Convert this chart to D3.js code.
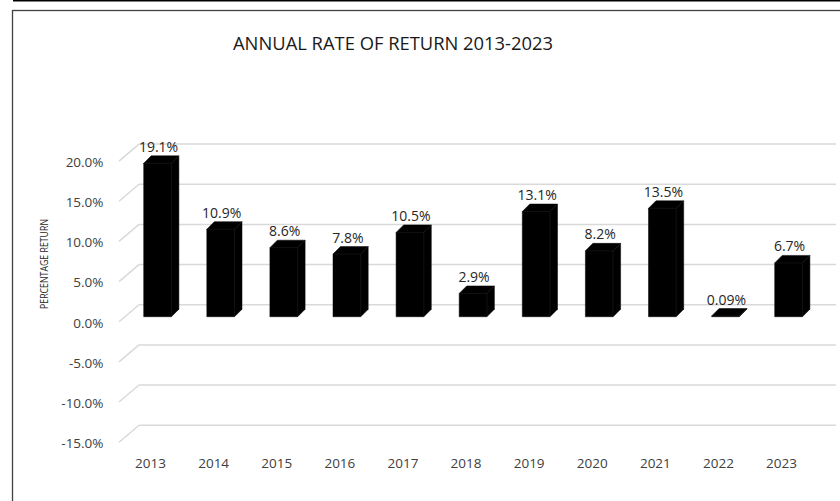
<!DOCTYPE html>
<html>
<head>
<meta charset="utf-8">
<script src="https://cdn.jsdelivr.net/npm/d3@7"></script>
<style>
  body { margin: 0; background: #fff; }
  svg { display: block; font-family: "Open Sans", sans-serif; }
</style>
</head>
<body>
<div id="chart"></div>
<script>
var years = ["2013", "2014", "2015", "2016", "2017", "2018", "2019", "2020", "2021", "2022", "2023"];
var returns = [19.1, 10.9, 8.6, 7.8, 10.5, 2.9, 13.1, 8.2, 13.5, 0.09, 6.7];
var yTicks = [-15, -10, -5, 0, 5, 10, 15, 20];

var width = 840, height = 501;
var depth = {dx: 20, dy: -17};      // floor depth (front edge -> back wall)
var barOff = {dx: 7, dy: -5};       // bar front face sits a bit behind the front edge
var barDepth = {dx: 7.5, dy: -7.5};
var barW = 27.7;

var data = years.map(function(d, i){ return {year: d, value: returns[i]}; });

var svg = d3.select("#chart").append("svg")
    .attr("width", width)
    .attr("height", height);

// frame
svg.append("line")
    .attr("x1", 13).attr("x2", width).attr("y1", 0.75).attr("y2", 0.75)
    .attr("stroke", "#000").attr("stroke-width", 1.5);
svg.append("rect")
    .attr("x", 12.5).attr("y", 10.5)
    .attr("width", width).attr("height", height)
    .attr("fill", "none").attr("stroke", "#404040").attr("stroke-width", 1.3);

var x = d3.scaleBand()
    .domain(years)
    .range([119, 119 + 11 * 63.1])
    .padding(0);

var y = d3.scaleLinear()
    .domain([-15, 20])
    .range([442.2, 161.1]);

// gridlines on the back wall plus the diagonal on the side wall
var grid = svg.append("g").attr("class", "grid");
grid.selectAll("line.h").data(yTicks).enter().append("line")
    .attr("class", "h")
    .attr("x1", 119 + depth.dx)
    .attr("x2", 836)
    .attr("y1", function(d){ return y(d) + depth.dy; })
    .attr("y2", function(d){ return y(d) + depth.dy; })
    .attr("stroke", "#d9d9d9").attr("stroke-width", 1.5);
grid.selectAll("line.d").data(yTicks).enter().append("line")
    .attr("class", "d")
    .attr("x1", 119)
    .attr("x2", 119 + depth.dx)
    .attr("y1", function(d){ return y(d); })
    .attr("y2", function(d){ return y(d) + depth.dy; })
    .attr("stroke", "#d9d9d9").attr("stroke-width", 1.5);

// title
svg.append("text")
    .attr("x", 393)
    .attr("y", 50)
    .attr("text-anchor", "middle")
    .attr("font-size", 19)
    .attr("textLength", 320)
    .attr("lengthAdjust", "spacingAndGlyphs")
    .attr("fill", "#1a1a1a")
    .text("ANNUAL RATE OF RETURN 2013-2023");

// axis title
svg.append("text")
    .attr("transform", "translate(48,264) rotate(-90)")
    .attr("text-anchor", "middle")
    .attr("font-size", 11)
    .attr("textLength", 90)
    .attr("lengthAdjust", "spacingAndGlyphs")
    .attr("fill", "#262626")
    .text("PERCENTAGE RETURN");

// y axis labels
var yAxis = svg.append("g")
    .attr("transform", "translate(119,1)")
    .call(d3.axisLeft(y).tickValues(yTicks).tickSize(0).tickPadding(15.5)
        .tickFormat(function(d){ return d.toFixed(1) + "%"; }));
yAxis.select(".domain").remove();
yAxis.selectAll("text").attr("font-size", 13.5).attr("fill", "#404040")
    .attr("font-family", "Open Sans, sans-serif");

// x axis labels
var xAxis = svg.append("g")
    .attr("transform", "translate(0,463)")
    .call(d3.axisBottom(x).tickSize(0).tickPadding(0));
xAxis.select(".domain").remove();
xAxis.selectAll("text").attr("dy", "0.35em").attr("font-size", 13.5).attr("fill", "#404040")
    .attr("font-family", "Open Sans, sans-serif");

// bars: front face, top and right side
function fx(d){ return x(d.year) + x.bandwidth() / 2 + barOff.dx - barW / 2; }
function ft(d){ return y(d.value) + barOff.dy; }
var fb = y(0) + barOff.dy;

var bars = svg.append("g").attr("class", "bars")
    .selectAll("g").data(data).enter().append("g");

bars.append("polygon")
    .attr("points", function(d){
        var x0 = fx(d), x1 = x0 + barW, t = ft(d);
        return [[x0, t], [x0 + barDepth.dx, t + barDepth.dy], [x1 + barDepth.dx, t + barDepth.dy],
                [x1 + barDepth.dx, fb + barDepth.dy], [x1, fb], [x0, fb]].join(" ");
    })
    .attr("fill", "#000")
    .attr("stroke", "#000")
    .attr("stroke-width", 0.5)
    .attr("stroke-linejoin", "round");

bars.append("polyline")
    .attr("points", function(d){
        var x0 = fx(d), x1 = x0 + barW, t = ft(d);
        return [[x0, t], [x1, t], [x1 + barDepth.dx, t + barDepth.dy], [x1, t], [x1, fb]].join(" ");
    })
    .attr("fill", "none")
    .attr("stroke", "#1e1e1e")
    .attr("stroke-width", 0.6);

// value labels
bars.append("text")
    .attr("x", function(d){ return fx(d) + barW / 2 + 1; })
    .attr("y", function(d){ return ft(d) + barDepth.dy - 4; })
    .attr("text-anchor", "middle")
    .attr("font-size", 14)
    .attr("fill", "#262626")
    .text(function(d){ return d3.format(d.value < 1 ? ".2f" : ".1f")(d.value) + "%"; });
</script>
</body>
</html>
